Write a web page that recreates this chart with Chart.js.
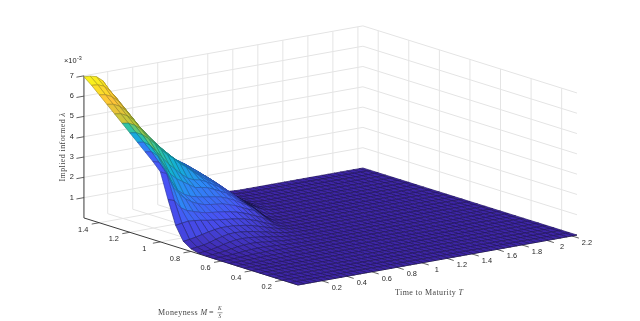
<!DOCTYPE html>
<html>
<head>
<meta charset="utf-8">
<title>Implied informed lambda surface</title>
<script src="https://cdn.jsdelivr.net/npm/chart.js@4"></script>
<style>
  html, body { margin: 0; background: #fff; }
  canvas { display: block; }
</style>
</head>
<body>
<canvas id="surfaceChart" width="640" height="321"></canvas>
<script>
const moneyness = [0.10, 0.15, 0.20, 0.25, 0.30, 0.35, 0.40, 0.45, 0.50, 0.55, 0.60, 0.65, 0.70, 0.75, 0.80,
    0.85, 0.90, 0.95, 1.00, 1.05, 1.10, 1.15, 1.20, 1.25, 1.30, 1.35, 1.40, 1.45, 1.50];
const maturity = [0.01, 0.06, 0.11, 0.16, 0.21, 0.26, 0.31, 0.36, 0.41, 0.46, 0.51, 0.56, 0.61, 0.66, 0.71, 0.76,
    0.81, 0.86, 0.91, 0.96, 1.01, 1.06, 1.11, 1.16, 1.21, 1.26, 1.31, 1.36, 1.41, 1.46, 1.51, 1.56, 1.61, 1.66,
    1.71, 1.76, 1.81, 1.86, 1.91, 1.96, 2.01, 2.06, 2.11, 2.16, 2.21, 2.24];

// lambda in units of 1e-3, one row per moneyness value, rows stop where the surface reaches the floor
const lambda = [
    [], [], [], [], [], [], [], [],
    [0, 0, 0, 0, 0, 0.01, 0.01, 0.01, 0.01, 0.01, 0.01],
    [0, 0, 0, 0.01, 0.01, 0.02, 0.03, 0.03, 0.03, 0.03, 0.02, 0.01, 0.01],
    [0, 0, 0.01, 0.02, 0.03, 0.05, 0.06, 0.07, 0.07, 0.06, 0.05, 0.03, 0.02, 0.02, 0.01],
    [0, 0.01, 0.02, 0.04, 0.07, 0.10, 0.12, 0.13, 0.13, 0.11, 0.09, 0.07, 0.05, 0.04, 0.02, 0.01, 0.01],
    [0.01, 0.02, 0.05, 0.09, 0.14, 0.19, 0.22, 0.24, 0.23, 0.20, 0.17, 0.14, 0.10, 0.07, 0.05, 0.03, 0.02, 0.01],
    [0.03, 0.06, 0.10, 0.16, 0.24, 0.31, 0.36, 0.37, 0.36, 0.32, 0.28, 0.23, 0.18, 0.13, 0.09, 0.06, 0.03, 0.02, 0.01],
    [0.13, 0.16, 0.20, 0.28, 0.38, 0.46, 0.52, 0.54, 0.52, 0.48, 0.43, 0.36, 0.30, 0.22, 0.16, 0.10, 0.06, 0.04, 0.02, 0.01],
    [0.38, 0.42, 0.48, 0.55, 0.62, 0.68, 0.72, 0.72, 0.70, 0.66, 0.62, 0.55, 0.46, 0.37, 0.27, 0.19, 0.12, 0.06, 0.02, 0.01],
    [1.05, 1.10, 1.15, 1.12, 1.08, 1.02, 0.98, 0.94, 0.90, 0.87, 0.82, 0.76, 0.66, 0.56, 0.42, 0.30, 0.18, 0.07, 0.02],
    [2.20, 2.10, 1.70, 1.50, 1.40, 1.30, 1.22, 1.18, 1.15, 1.10, 1.05, 0.98, 0.88, 0.76, 0.62, 0.50, 0.32, 0.12, 0.04, 0.01],
    [3.45, 3.30, 2.60, 2.20, 1.90, 1.70, 1.55, 1.45, 1.40, 1.36, 1.32, 1.22, 1.12, 0.98, 0.84, 0.72, 0.50, 0.25, 0.08, 0.03, 0.01],
    [3.85, 3.75, 3.30, 2.70, 2.20, 1.95, 1.80, 1.72, 1.65, 1.60, 1.55, 1.48, 1.36, 1.22, 1.04, 0.88, 0.68, 0.40, 0.15, 0.05, 0.01],
    [4.20, 4.15, 3.90, 3.40, 2.90, 2.60, 2.40, 2.20, 2.00, 1.95, 1.88, 1.75, 1.60, 1.45, 1.24, 1.00, 0.80, 0.58, 0.32, 0.14, 0.05, 0.02],
    [4.55, 4.50, 4.30, 3.95, 3.55, 3.20, 2.90, 2.60, 2.35, 2.20, 2.15, 2.00, 1.82, 1.65, 1.42, 1.18, 0.95, 0.72, 0.49, 0.29, 0.15, 0.07, 0.03, 0.01],
    [4.90, 4.85, 4.70, 4.45, 4.15, 3.80, 3.50, 3.25, 2.95, 2.72, 2.45, 2.20, 1.98, 1.80, 1.60, 1.35, 1.10, 0.84, 0.58, 0.35, 0.19, 0.09, 0.04, 0.01],
    [5.25, 5.20, 5.05, 4.80, 4.45, 4.05, 3.75, 3.45, 3.15, 2.88, 2.60, 2.32, 2.10, 1.93, 1.74, 1.50, 1.24, 0.95, 0.66, 0.41, 0.23, 0.11, 0.05, 0.02],
    [5.60, 5.55, 5.40, 5.15, 4.75, 4.35, 4.00, 3.65, 3.30, 3.00, 2.70, 2.40, 2.18, 2.02, 1.85, 1.62, 1.36, 1.05, 0.74, 0.46, 0.26, 0.13, 0.06, 0.02],
    [5.95, 5.90, 5.75, 5.50, 5.10, 4.65, 4.25, 3.85, 3.45, 3.10, 2.80, 2.48, 2.25, 2.10, 1.95, 1.72, 1.48, 1.15, 0.82, 0.52, 0.30, 0.15, 0.07, 0.03, 0.01],
    [6.30, 6.25, 6.10, 5.85, 5.45, 5.00, 4.55, 4.10, 3.65, 3.25, 2.90, 2.55, 2.32, 2.18, 2.02, 1.82, 1.60, 1.25, 0.90, 0.58, 0.34, 0.17, 0.08, 0.03, 0.01],
    [6.65, 6.62, 6.50, 6.20, 5.80, 5.30, 4.85, 4.40, 3.90, 3.45, 3.00, 2.65, 2.40, 2.25, 2.10, 1.92, 1.70, 1.35, 0.98, 0.64, 0.38, 0.20, 0.09, 0.04, 0.01],
    [6.95, 6.93, 6.85, 6.60, 6.10, 5.65, 5.20, 4.70, 4.20, 3.70, 3.20, 2.75, 2.45, 2.30, 2.15, 2.00, 1.80, 1.45, 1.05, 0.70, 0.42, 0.22, 0.10, 0.04, 0.01]
];

// colour level of the narrow strip along the short-maturity edge, same rows as lambda, null keeps the height colour
const edgeStrip = [null, null, null, null, null, null, null, null, null, null, null, null, null, null, null,
    null, 0.9, 1.0, 1.1, 1.3, 1.9, 2.8, 3.8, null, null, null, null, null, null];

const moneynessTicks = [0.2, 0.4, 0.6, 0.8, 1, 1.2, 1.4];
const maturityTicks = [0.2, 0.4, 0.6, 0.8, 1, 1.2, 1.4, 1.6, 1.8, 2, 2.2];
const lambdaTicks = [1, 2, 3, 4, 5, 6, 7];

const parula = [[62, 38, 168], [72, 82, 244], [46, 135, 247], [18, 177, 214], [55, 200, 151], [171, 199, 57], [254, 195, 56], [249, 251, 21]];

const mMin = moneyness[0], mMax = moneyness[moneyness.length - 1];
const tMin = maturity[0], tMax = maturity[maturity.length - 1];
const zMax = 7;

// fixed 3d view, same as view(az, el) on the original figure
function project(m, t, z) {
    const dm = m - mMin, dt = t - tMin;
    return {
        x: 298 - 152.9 * dm + 125.1 * dt,
        y: 285 - 47.9 * dm - 22.4 * dt - 20.3 * z
    };
}

function rgbFor(z) {
    const pos = Math.max(0, Math.min(1, z / zMax)) * (parula.length - 1);
    const k = Math.min(parula.length - 2, Math.floor(pos));
    const f = pos - k;
    return parula[k].map((v, n) => v + (parula[k + 1][n] - v) * f);
}

function css(c, shade) {
    return `rgb(${Math.round(c[0] * shade)},${Math.round(c[1] * shade)},${Math.round(c[2] * shade)})`;
}

function zAt(i, j) {
    return lambda[i][j] ?? 0;
}

function lineSet(points, color, width) {
    return {
        data: points, showLine: true, fill: false, borderColor: color, borderWidth: width,
        pointRadius: 0, tension: 0, clip: false
    };
}

// screen area of a cell, nearly edge-on cells low on the surface read as dark creases
function cellArea(pts) {
    let sum = 0;
    for (let k = 0; k < 4; k++) sum += pts[k].x * pts[k + 1].y - pts[k + 1].x * pts[k].y;
    return Math.abs(sum) / 2;
}

// first dataset is painted last, so the cells go front to back
const surfaceSets = [];
for (let i = 0; i < moneyness.length - 1; i++) {
    for (let j = 0; j < maturity.length - 1; j++) {
        const corners = [[i, j], [i + 1, j], [i + 1, j + 1], [i, j + 1], [i, j]];
        const pts = corners.map(([a, b]) => project(moneyness[a], maturity[b], zAt(a, b)));
        let level = (zAt(i, j) + zAt(i + 1, j) + zAt(i + 1, j + 1) + zAt(i, j + 1)) / 4;
        const crease = level < 1 && cellArea(pts) < 9;
        if (edgeStrip[i] !== null && j === 0) level = edgeStrip[i];
        if (edgeStrip[i] !== null && j === 1) level = (level + edgeStrip[i]) / 2;
        const rgb = rgbFor(level);
        surfaceSets.push({
            data: pts,
            showLine: true,
            fill: 'shape',
            backgroundColor: css(rgb, 1),
            borderColor: css(rgb, crease ? 0.3 : level < 1 ? 0.56 : 0.7),
            borderWidth: 0.7,
            pointRadius: 0,
            tension: 0,
            clip: false
        });
    }
}

const axisColor = '#3a3a3a';
const gridColor = '#e4e4e4';

const axisSets = [
    lineSet([project(mMax, tMin, 0), project(mMax, tMin, zMax)], axisColor, 1),
    lineSet([project(mMax, tMin, 0), project(mMin, tMin, 0)], axisColor, 1),
    lineSet([project(mMin, tMin, 0), project(mMin, tMax, 0)], axisColor, 0.8)
];
lambdaTicks.forEach(z => axisSets.push(lineSet([project(mMax, tMin, z), project(mMax, tMin - 0.06, z)], axisColor, 0.8)));
moneynessTicks.forEach(m => axisSets.push(lineSet([project(m, tMin, 0), project(m, tMin - 0.06, 0)], axisColor, 0.8)));
maturityTicks.forEach(t => axisSets.push(lineSet([project(mMin, t, 0), project(mMin - 0.045, t, 0)], axisColor, 0.8)));

const gridSets = [];
lambdaTicks.forEach(z => {
    gridSets.push(lineSet([project(mMax, tMin, z), project(mMax, tMax, z), project(mMin, tMax, z)], gridColor, 1));
});
moneynessTicks.forEach(m => {
    gridSets.push(lineSet([project(m, tMin, 0), project(m, tMax, 0), project(m, tMax, zMax)], gridColor, 1));
});
maturityTicks.forEach(t => {
    gridSets.push(lineSet([project(mMin, t, 0), project(mMax, t, 0), project(mMax, t, zMax)], gridColor, 1));
});

const labelPlugin = {
    id: 'surfaceLabels',
    afterDraw(chart) {
        const { ctx, scales } = chart;
        const at = (p) => ({ x: scales.x.getPixelForValue(p.x), y: scales.y.getPixelForValue(p.y) });
        ctx.save();
        ctx.fillStyle = '#262626';
        ctx.font = '7.4px "Liberation Sans"';
        ctx.textBaseline = 'middle';
        ctx.textAlign = 'center';
        moneynessTicks.forEach(m => {
            const p = at(project(m, tMin, 0));
            ctx.fillText(String(m), p.x - 16, p.y + 7);
        });
        maturityTicks.forEach(t => {
            const p = at(project(mMin, t, 0));
            ctx.fillText(String(t), p.x + 15, p.y + 7);
        });
        ctx.textAlign = 'right';
        lambdaTicks.forEach(z => {
            const p = at(project(mMax, tMin, z));
            ctx.fillText(String(z), p.x - 10, p.y);
        });
        ctx.textAlign = 'left';
        ctx.fillText('\u00d710', 64, 61);
        ctx.font = '5.4px "Liberation Sans"';
        ctx.fillText('-3', 77, 58.5);

        ctx.fillStyle = '#444';
        ctx.letterSpacing = '0.4px';
        ctx.font = '8px "Liberation Serif"';
        ctx.fillText('Time to Maturity ', 395, 293);
        const tw = ctx.measureText('Time to Maturity ').width;
        ctx.fillText('Moneyness ', 158, 313);
        const mw = ctx.measureText('Moneyness ').width;
        ctx.font = 'italic 8px "Liberation Serif"';
        ctx.fillText('T', 395 + tw, 293);
        ctx.fillText('M', 158 + mw, 313);
        ctx.font = '8px "Liberation Serif"';
        ctx.fillText('=', 209, 313);
        ctx.font = 'italic 5.4px "Liberation Serif"';
        ctx.textAlign = 'center';
        ctx.fillText('K', 220, 309);
        ctx.fillText('S', 220, 317);
        ctx.fillRect(217.5, 312.6, 5, 0.5);

        ctx.translate(63, 146);
        ctx.rotate(-Math.PI / 2);
        ctx.font = '8px "Liberation Serif"';
        const yw = ctx.measureText('Implied informed ').width;
        ctx.fillText('Implied informed ', -3, 0);
        ctx.font = 'italic 8px "Liberation Serif"';
        ctx.fillText('\u03bb', -3 + yw / 2 + 2, 0);
        ctx.restore();
    }
};

new Chart(document.getElementById('surfaceChart').getContext('2d'), {
    type: 'scatter',
    data: { datasets: [...surfaceSets, ...axisSets, ...gridSets] },
    options: {
        responsive: false,
        animation: false,
        events: [],
        layout: { padding: 0 },
        plugins: { legend: { display: false }, tooltip: { enabled: false } },
        scales: {
            x: { type: 'linear', min: 0, max: 640, display: false },
            y: { type: 'linear', min: 0, max: 321, reverse: true, display: false }
        }
    },
    plugins: [labelPlugin]
});
</script>
</body>
</html>
